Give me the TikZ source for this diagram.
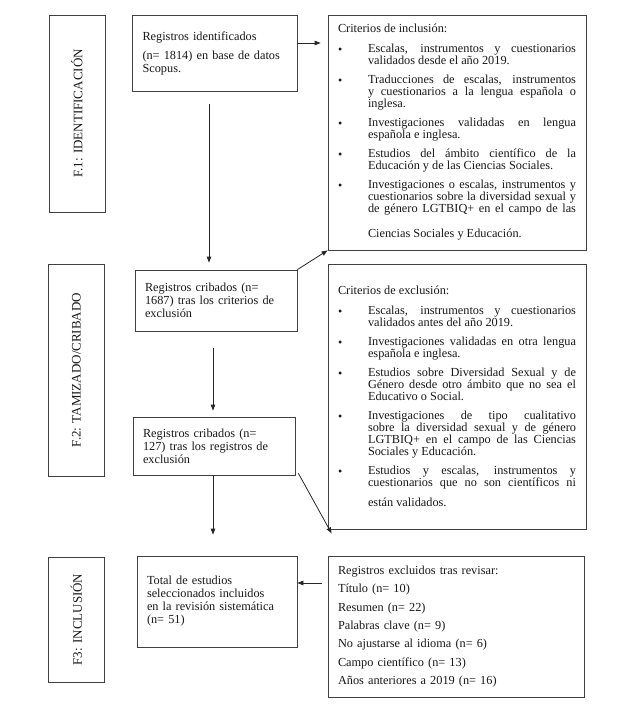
\documentclass[tikz,border=0pt]{standalone}
\usepackage{fontspec}
\setmainfont{Liberation Serif}
\usetikzlibrary{arrows.meta}
\newenvironment{critlist}{\begin{list}{\raisebox{-0.5pt}{\fontsize{12}{12}\selectfont\textbullet}}{%
  \setlength{\leftmargin}{30pt}\setlength{\labelwidth}{20pt}%
  \setlength{\labelsep}{10pt}\setlength{\itemsep}{7pt}%
  \setlength{\parsep}{0pt}\setlength{\topsep}{0pt}\setlength{\partopsep}{0pt}%
  \renewcommand{\makelabel}[1]{##1\hfil}}}{\end{list}}
\begin{document}
\begin{tikzpicture}[x=1pt,y=-1pt,
  box/.style={draw=black!75, line width=0.8pt, inner xsep=10pt, inner ysep=0pt,
    align=left, text=black!90, font=\fontsize{12.3}{13}\selectfont},
  critbox/.style={draw=black!75, line width=0.8pt, inner xsep=10pt, inner ysep=0pt,
    text width=238pt, minimum width=258pt, align=justify, text=black!90,
    font=\fontsize{12.3}{12}\selectfont},
  sidebox/.style={draw=black!75, line width=0.8pt, rotate=90, inner sep=0pt,
    minimum height=56pt, text=black!90, font=\fontsize{13}{14}\selectfont},
  arr/.style={-{Triangle[length=6pt,width=4.5pt]}, line width=0.8pt, black!85}]
\fill[white] (0,0) rectangle (627,707);
\useasboundingbox (0,0) rectangle (627,707);

% phase labels
\node[sidebox, minimum width=197pt] (f1) at (77,113.5) {F.1: IDENTIFICACIÓN};
\node[sidebox, minimum width=212pt] (f2) at (76.5,370) {F.2: TAMIZADO/CRIBADO};
\node[sidebox, minimum width=125pt] (f3) at (76.5,619.5) {F3: INCLUSIÓN};

% left flow boxes
\node[box, text width=144pt, minimum width=165pt, minimum height=76pt] (b1) at (214.5,53)
  {Registros identificados\\[6pt](n= 1814) en base de datos\\Scopus.};
\node[box, text width=142pt, minimum width=162pt, minimum height=61pt] (b2) at (216,300.5)
  {Registros cribados (n=\\1687) tras los criterios de\\exclusión};
\node[box, text width=142pt, minimum width=162pt, minimum height=58pt] (b3) at (214,446)
  {Registros cribados (n=\\127) tras los registros de\\exclusión};
\node[box, text width=140pt, minimum width=160pt, minimum height=91pt] (b4) at (217,601.5)
  {Total de estudios\\seleccionados incluidos\\en la revisión sistemática\\(n= 51)};

% criteria boxes
\node[critbox, minimum height=235pt] (incl) at (457,132.5) {%
  \tolerance=10000\hbadness=10000\hfuzz=2pt\parindent=0pt
  Criterios de inclusión:\par\vspace{8pt}
  \begin{critlist}
  \item Escalas, instrumentos y cuestionarios\linebreak validados desde el año 2019.
  \item Traducciones de escalas, instrumentos\linebreak y cuestionarios a la lengua española o\linebreak inglesa.
  \item Investigaciones validadas en lengua\linebreak española e inglesa.
  \item Estudios del ámbito científico de la\linebreak Educación y de las Ciencias Sociales.
  \item Investigaciones o escalas, instrumentos y\linebreak cuestionarios sobre la diversidad sexual y\linebreak de género LGTBIQ+ en el campo de las\vadjust{\vskip13pt}\linebreak Ciencias Sociales y Educación.
  \end{critlist}};
\node[critbox, minimum height=265pt] (excl) at (457,396.5) {%
  \tolerance=10000\hbadness=10000\hfuzz=2pt\parindent=0pt
  Criterios de exclusión:\par\vspace{8pt}
  \begin{critlist}
  \item Escalas, instrumentos y cuestionarios\linebreak validados antes del año 2019.
  \item Investigaciones validadas en otra lengua\linebreak española e inglesa.
  \item Estudios sobre Diversidad Sexual y de\linebreak Género desde otro ámbito que no sea el\linebreak Educativo o Social.
  \item Investigaciones de tipo cualitativo\linebreak sobre la diversidad sexual y de género\linebreak LGTBIQ+ en el campo de las Ciencias\linebreak Sociales y Educación.
  \item Estudios y escalas, instrumentos y\linebreak cuestionarios que no son científicos ni\vadjust{\vskip8pt}\linebreak están validados.
  \end{critlist}};

% excluded records box
\node[box, text width=236pt, minimum width=256pt, minimum height=141pt,
  font=\fontsize{12.3}{18.3}\selectfont] (rex) at (456,626.5)
  {Registros excluidos tras revisar:\\Título (n= 10)\\Resumen (n= 22)\\Palabras clave (n= 9)\\No ajustarse al idioma (n= 6)\\Campo científico (n= 13)\\Años anteriores a 2019 (n= 16)};

% connectors
\draw[arr, shorten >=7pt] ([yshift=10pt]b1.east) -- ([yshift=10pt]b1.east -| incl.west);
\draw[arr, shorten <=13pt, shorten >=7pt] ([xshift=-5.5pt]b1.south) -- ([xshift=-5.5pt]b1.south |- b2.north);
\draw[arr] (b2.north east) -- (incl.south west);
\draw[arr, shorten <=17pt, shorten >=6pt] ([xshift=-3pt]b2.south) -- ([xshift=-3pt]b2.south |- b3.north);
\draw[arr, shorten >=21pt] ([xshift=-1pt]b3.south) -- ([xshift=-1pt]b3.south |- b4.north);
\coordinate (e6) at ([shift={(4pt,-4pt)}]excl.south west);
\draw[arr] ([xshift=3pt,yshift=2pt]b3.south east) -- (e6);
\draw[arr, shorten <=6pt] ([yshift=43.5pt]rex.west) -- ([yshift=43.5pt]rex.west -| b4.east);
\end{tikzpicture}
\end{document}
